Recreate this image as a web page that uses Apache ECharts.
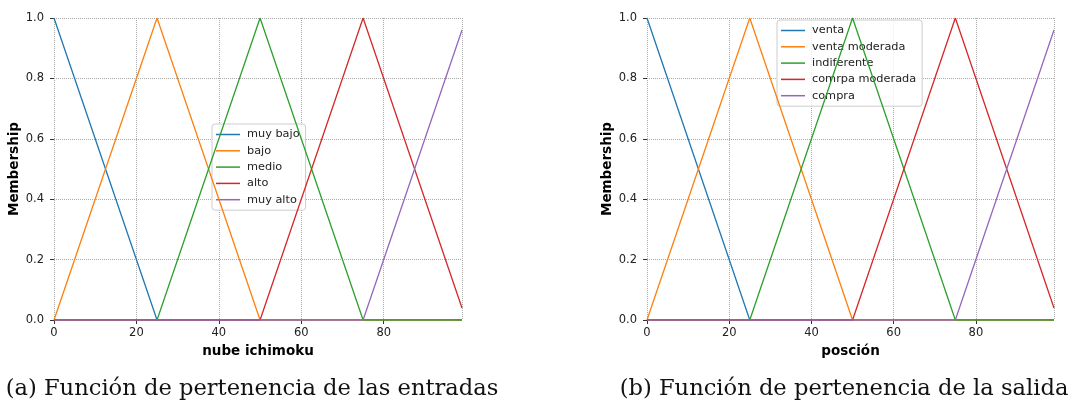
<!DOCTYPE html>
<html>
<head>
<meta charset="utf-8">
<script src="https://cdn.jsdelivr.net/npm/echarts@6/dist/echarts.min.js"></script>
<style>
  html, body { margin: 0; padding: 0; background: #fff; }
  #chart { width: 1074px; height: 411px; }
</style>
</head>
<body>
<div id="chart"></div>
<script>
// vertices of the triangular membership functions (x from 0 to 99)
const xMuyBajo = [0, 25, 99];
const yMuyBajo = [1, 0, 0];
const xBajo = [0, 25, 50, 99];
const yBajo = [0, 1, 0, 0];
const xMedio = [0, 25, 50, 75, 99];
const yMedio = [0, 0, 1, 0, 0];
const xAlto = [0, 50, 75, 99];
const yAlto = [0, 0, 1, 0.04];
const xMuyAlto = [0, 75, 99];
const yMuyAlto = [0, 0, 0.96];

const namesIn = ['muy bajo', 'bajo', 'medio', 'alto', 'muy alto'];
const namesOut = ['venta', 'venta moderada', 'indiferente', 'comrpa moderada', 'compra'];
const colors = ['#1f77b4', '#ff7f0e', '#2ca02c', '#d62728', '#9467bd'];
const captions = ['(a) Función de pertenencia de las entradas', '(b) Función de pertenencia de la salida'];

const shapes = [
  [xMuyBajo, yMuyBajo],
  [xBajo, yBajo],
  [xMedio, yMedio],
  [xAlto, yAlto],
  [xMuyAlto, yMuyAlto]
];

const font = 'DejaVu Sans';
const txt = '#222';

function pts(xs, ys) {
  return xs.map((x, i) => [x, ys[i]]);
}

function makeX(idx, name) {
  return {
    type: 'value', gridIndex: idx, min: 0, max: 99, interval: 20,
    name: name, nameLocation: 'middle', nameGap: 24,
    nameTextStyle: { fontFamily: font, fontWeight: 'bold', fontSize: 13.5, color: '#000' },
    axisLine: { show: false },
    axisTick: { show: true, length: 4, lineStyle: { color: '#333' } },
    axisLabel: { fontFamily: font, fontSize: 11.5, color: txt, margin: 7, showMaxLabel: false },
    splitLine: { show: true, lineStyle: { color: '#aaa', type: 'dotted', width: 1 } }
  };
}

function makeY(idx) {
  return {
    type: 'value', gridIndex: idx, min: 0, max: 1, interval: 0.2,
    name: 'Membership', nameLocation: 'middle', nameGap: 32,
    nameTextStyle: { fontFamily: font, fontWeight: 'bold', fontSize: 13.5, color: '#000' },
    axisLine: { show: false },
    axisTick: { show: true, length: 4, lineStyle: { color: '#333' } },
    axisLabel: { fontFamily: font, fontSize: 11.5, color: txt, margin: 10,
      formatter: v => v.toFixed(1) },
    splitLine: { show: true, lineStyle: { color: '#aaa', type: 'dotted', width: 1 } }
  };
}

const series = [];
[namesIn, namesOut].forEach((names, g) => {
  shapes.forEach((s, i) => {
    series.push({
      name: names[i], type: 'line', xAxisIndex: g, yAxisIndex: g,
      data: pts(s[0], s[1]), showSymbol: false, symbol: 'none',
      lineStyle: { color: colors[i], width: 1.3 }, itemStyle: { color: colors[i] },
      z: 3 + i
    });
  });
});

function makeLegend(names, left, top) {
  return {
    data: names, orient: 'vertical', left: left, top: top,
    icon: 'rect', itemWidth: 24, itemHeight: 1.5, itemGap: 5.3,
    padding: [5, 6, 5, 4],
    backgroundColor: 'rgba(255,255,255,0.8)',
    borderColor: '#ccc', borderWidth: 1, borderRadius: 3,
    textStyle: { fontFamily: font, fontSize: 11.3, color: txt, padding: [0, 0, 0, 2] },
    selectedMode: false
  };
}

const capStyle = { fontFamily: 'DejaVu Serif', fontWeight: 'normal', fontSize: 22.6, color: '#111' };

const option = {
  animation: false,
  color: colors,
  grid: [
    { left: 54, right: 612, top: 18, bottom: 91 },
    { left: 647, right: 20, top: 18, bottom: 91 }
  ],
  xAxis: [makeX(0, 'nube ichimoku'), makeX(1, 'posción')],
  yAxis: [makeY(0), makeY(1)],
  legend: [makeLegend(namesIn, 212, 124), makeLegend(namesOut, 777, 20)],
  title: [
    { text: captions[0], left: 252, top: 378, textAlign: 'center', padding: 0, textStyle: capStyle },
    { text: captions[1], left: 844, top: 378, textAlign: 'center', padding: 0, textStyle: capStyle }
  ],
  series: series
};

const chart = echarts.init(document.getElementById('chart'), null, { renderer: 'canvas' });
chart.setOption(option);
</script>
</body>
</html>
